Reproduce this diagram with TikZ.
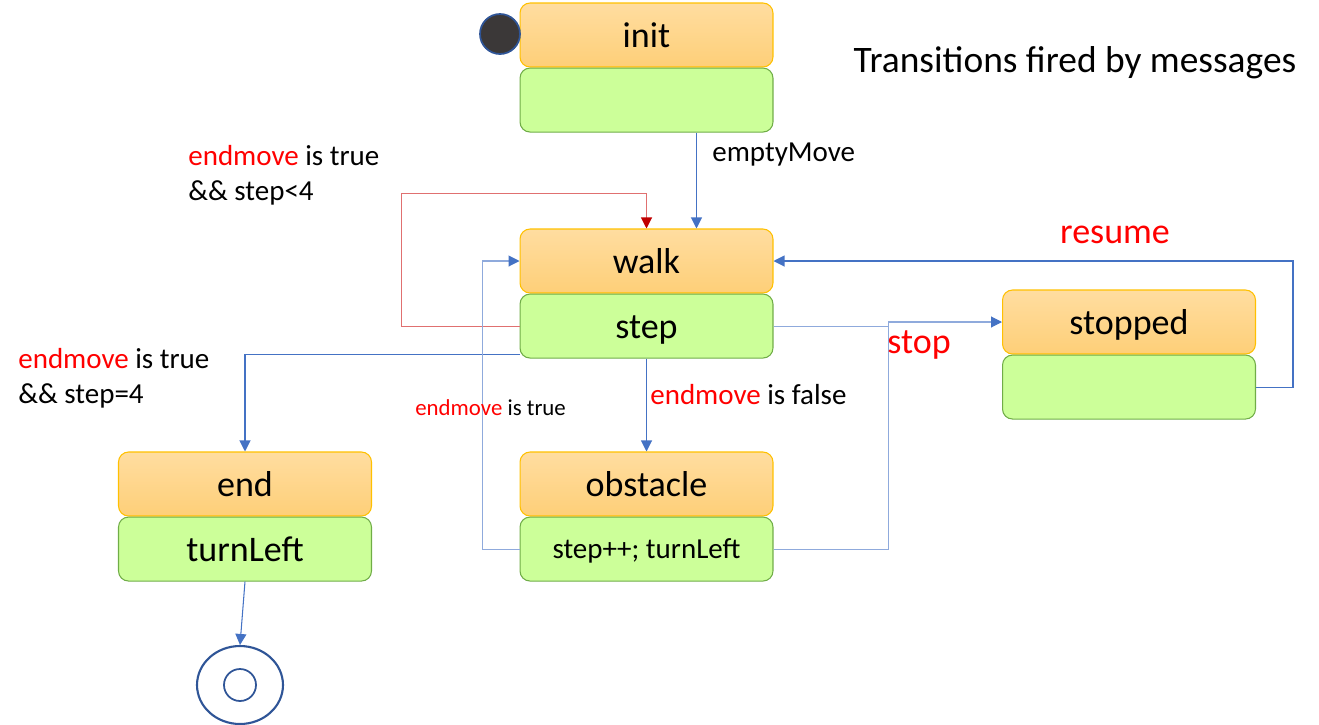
\documentclass[tikz,border=0pt]{standalone}
\usepackage{fontspec}
\setmainfont{Carlito}
\usetikzlibrary{arrows.meta,positioning,shapes.geometric}

\definecolor{hdtop}{HTML}{FFDDA0}
\definecolor{hdbot}{HTML}{FECF78}
\definecolor{hdline}{HTML}{FFC000}
\definecolor{bdfill}{HTML}{CCFF99}
\definecolor{bdline}{HTML}{70AD47}
\definecolor{arrblue}{HTML}{4472C4}
\definecolor{paleblue}{HTML}{8FAADC}
\definecolor{loopred}{HTML}{E07070}
\definecolor{tipred}{HTML}{C00000}
\definecolor{msgred}{HTML}{FF0000}
\definecolor{startfill}{HTML}{3B3838}
\definecolor{ringblue}{HTML}{2F5597}

\newcommand{\statefont}{\fontsize{20.5}{24}\selectfont}
\newcommand{\guardfont}{\fontsize{16.5}{20}\selectfont}
\newcommand{\notefont}{\fontsize{13}{16}\selectfont}

\begin{document}
\begin{tikzpicture}[
  x=0.02cm, y=-0.02cm,
  >={Triangle[length=0.22cm,width=0.22cm]},
  head/.style={rectangle, rounded corners=0.2cm, draw=hdline, line width=0.6pt,
    top color=hdtop, bottom color=hdbot, minimum width=5.06cm, minimum height=1.28cm,
    inner sep=0pt, font=\statefont, text height=0.6cm, text depth=0.12cm},
  body/.style={rectangle, rounded corners=0.2cm, draw=bdline, fill=bdfill, line width=0.6pt,
    minimum width=5.06cm, minimum height=1.28cm, inner sep=0pt, font=\statefont,
    text height=0.6cm, text depth=0.12cm},
  flow/.style={->, arrblue, line width=0.6pt},
  flowpale/.style={-{Triangle[length=0.22cm,width=0.22cm,color=arrblue]}, paleblue, line width=0.6pt},
  selfloop/.style={-{Triangle[length=0.22cm,width=0.22cm,color=tipred]}, loopred, line width=0.6pt},
  guard/.style={font=\guardfont, inner sep=0pt, align=left},
  msg/.style={font=\statefont, text=msgred, inner sep=0pt}
]
  \useasboundingbox (0,0) rectangle (1319,724);

  % states: header + activity
  \node[head] (initT) at (646.5,35) {init};
  \node[body, below=0pt of initT] (initB) {};
  \node[head] (walkT) at (646.5,261) {walk};
  \node[body, below=0pt of walkT] (walkB) {step};
  \node[head] (stopT) at (1129,322) {stopped};
  \node[body, below=0pt of stopT] (stopB) {};
  \node[head] (endT) at (245,484) {end};
  \node[body, below=0pt of endT] (endB) {turnLeft};
  \node[head] (obsT) at (646.5,484) {obstacle};
  \node[body, below=0pt of obsT, font=\guardfont, text height=0.45cm, text depth=0.09cm] (obsB) {step++; turnLeft};

  % pseudo states
  \node[circle, draw=ringblue, fill=startfill, line width=1pt, minimum size=0.8cm, inner sep=0pt] (start) at (500,34) {};
  \node[ellipse, draw=ringblue, line width=1.2pt, minimum width=1.72cm, minimum height=1.56cm, inner sep=0pt] (final) at (240,685) {};
  \node[circle, draw=ringblue, line width=1pt, minimum size=0.64cm, inner sep=0pt] (finalIn) at (final) {};

  % transitions
  \draw[flow] ([xshift=1cm]initB.south) -- ([xshift=1cm]walkT.north);
  \draw[selfloop] (walkB.west) -| ++(-118,-133) -| (walkT.north);
  \draw[flow] ([yshift=0.08cm]walkB.south west) -| (endT.north);
  \draw[flow] (walkB.south) -- (obsT.north);
  \draw[flowpale] (obsB.west) -- ++(-37,0) |- (walkT.west);
  \draw[flowpale] (obsB.east) -- ++(115,0) |- (stopT.west);
  \draw[paleblue, line width=0.6pt] (walkB.east) -- ++(115,0);
  \draw[flow] (stopB.east) -- ++(37,0) |- (walkT.east);
  \draw[flow] (endB.south) -- (final.north);

  % labels
  \node[guard, anchor=west] (lblEmpty) at (712,155) {emptyMove};
  \node[guard, anchor=west] (lblLoop) at (188,175) {\textcolor{msgred}{endmove} is true\\\&\& step<4};
  \node[guard, anchor=west] (lblEnd) at (18,378) {\textcolor{msgred}{endmove} is true\\\&\& step=4};
  \node[guard, anchor=west] (lblObs) at (650,395) {\textcolor{msgred}{endmove} is false};
  \node[font=\notefont, inner sep=0pt, anchor=west] (lblBack) at (415,408) {\textcolor{msgred}{endmove} is true};
  \node[msg, anchor=west] (lblStop) at (887,345) {stop};
  \node[msg] (lblResume) at (1115,235) {resume};
  \node[font=\fontsize{21.3}{25}\selectfont, inner sep=0pt] (title) at (1075,63) {Transitions fired by messages};
\end{tikzpicture}
\end{document}
